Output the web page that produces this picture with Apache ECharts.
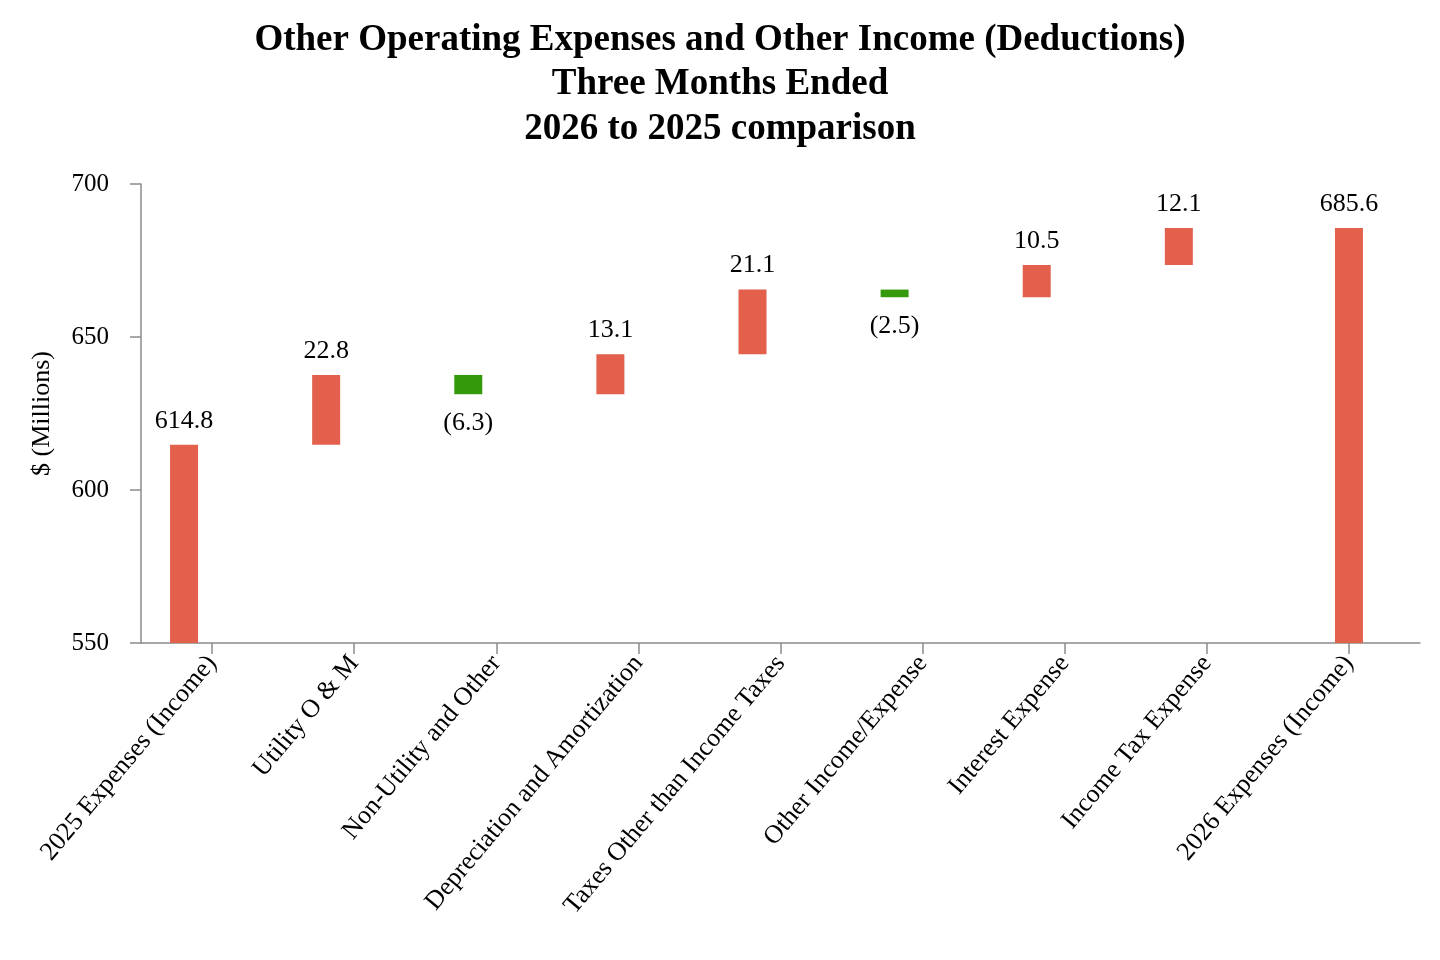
<!DOCTYPE html>
<html>
<head>
<meta charset="utf-8">
<script src="https://cdn.jsdelivr.net/npm/echarts@6/dist/echarts.min.js"></script>
<style>
  html, body { margin: 0; padding: 0; background: #fff; }
  #chart { width: 1440px; height: 960px; }
</style>
</head>
<body>
<div id="chart"></div>
<script>
const categories = [
  '2025 Expenses (Income)', 'Utility O & M', 'Non-Utility and Other',
  'Depreciation and Amortization', 'Taxes Other than Income Taxes',
  'Other Income/Expense', 'Interest Expense', 'Income Tax Expense',
  '2026 Expenses (Income)'
];
const startTotal = 614.8;
const changes = [22.8, -6.3, 13.1, 21.1, -2.5, 10.5, 12.1];
const endTotal = 685.6;
const yTicks = [550, 600, 650, 700];

const RED = '#e2604c';
const GREEN = '#349a0c';
const FONT = 'Liberation Serif';

// build stacked pieces for the waterfall
let base = [0], up = [startTotal], down = ['-'];
let level = startTotal;
changes.forEach(d => {
  if (d >= 0) {
    base.push(+level.toFixed(1));
    up.push(d);
    down.push('-');
  } else {
    base.push(+(level + d).toFixed(1));
    up.push('-');
    down.push(-d);
  }
  level += d;
});
base.push('-'); up.push('-'); down.push('-');
const endData = categories.map((c, i) => i === categories.length - 1 ? endTotal : '-');

const myChart = echarts.init(document.getElementById('chart'));
const labelStyle = { color: '#000', fontFamily: FONT, fontSize: 26 };

myChart.setOption({
  animation: false,
  title: {
    text: 'Other Operating Expenses and Other Income (Deductions)\nThree Months Ended\n2026 to 2025 comparison',
    left: 'center',
    top: 13,
    textStyle: { fontFamily: FONT, fontSize: 37, fontWeight: 'bold', lineHeight: 44.5, color: '#000' }
  },
  grid: { left: 141, right: 20, top: 184, bottom: 317 },
  xAxis: {
    type: 'category',
    data: categories,
    axisLine: { lineStyle: { color: '#8c8c8c', width: 1.5 } },
    axisTick: { show: true, alignWithLabel: true, length: 11, lineStyle: { color: '#8c8c8c', width: 1.5 } },
    axisLabel: { rotate: 50, interval: 0, margin: 16, color: '#000', fontFamily: FONT, fontSize: 26 }
  },
  yAxis: {
    type: 'value',
    min: yTicks[0],
    max: yTicks[yTicks.length - 1],
    interval: 50,
    name: '$ (Millions)',
    nameLocation: 'middle',
    nameRotate: 90,
    nameGap: 86,
    nameTextStyle: { color: '#000', fontFamily: FONT, fontSize: 26 },
    splitLine: { show: false },
    axisLine: { show: true, lineStyle: { color: '#8c8c8c', width: 1.5 } },
    axisTick: { show: true, length: 11, lineStyle: { color: '#8c8c8c', width: 1.5 } },
    axisLabel: { margin: 32, color: '#000', fontFamily: FONT, fontSize: 25 }
  },
  series: [
    {
      name: 'base', type: 'bar', stack: 'a', barWidth: 28, barGap: '0%',
      itemStyle: { color: 'transparent' },
      data: base
    },
    {
      name: 'up', type: 'bar', stack: 'a', barWidth: 28,
      itemStyle: { color: RED },
      label: { show: true, position: 'top', distance: 11, ...labelStyle,
        formatter: p => p.value.toFixed(1) },
      data: up
    },
    {
      name: 'down', type: 'bar', stack: 'a', barWidth: 28,
      itemStyle: { color: GREEN },
      label: { show: true, position: 'bottom', distance: 16, ...labelStyle,
        formatter: p => '(' + p.value.toFixed(1) + ')' },
      data: down
    },
    {
      name: 'end', type: 'bar', stack: 'b', barWidth: 28,
      itemStyle: { color: RED },
      label: { show: true, position: 'top', distance: 11, ...labelStyle,
        formatter: p => p.value.toFixed(1) },
      data: endData
    },
    {
      name: 'spacer', type: 'bar', stack: 'c', barWidth: 28,
      data: categories.map(() => '-')
    }
  ]
});
</script>
</body>
</html>
